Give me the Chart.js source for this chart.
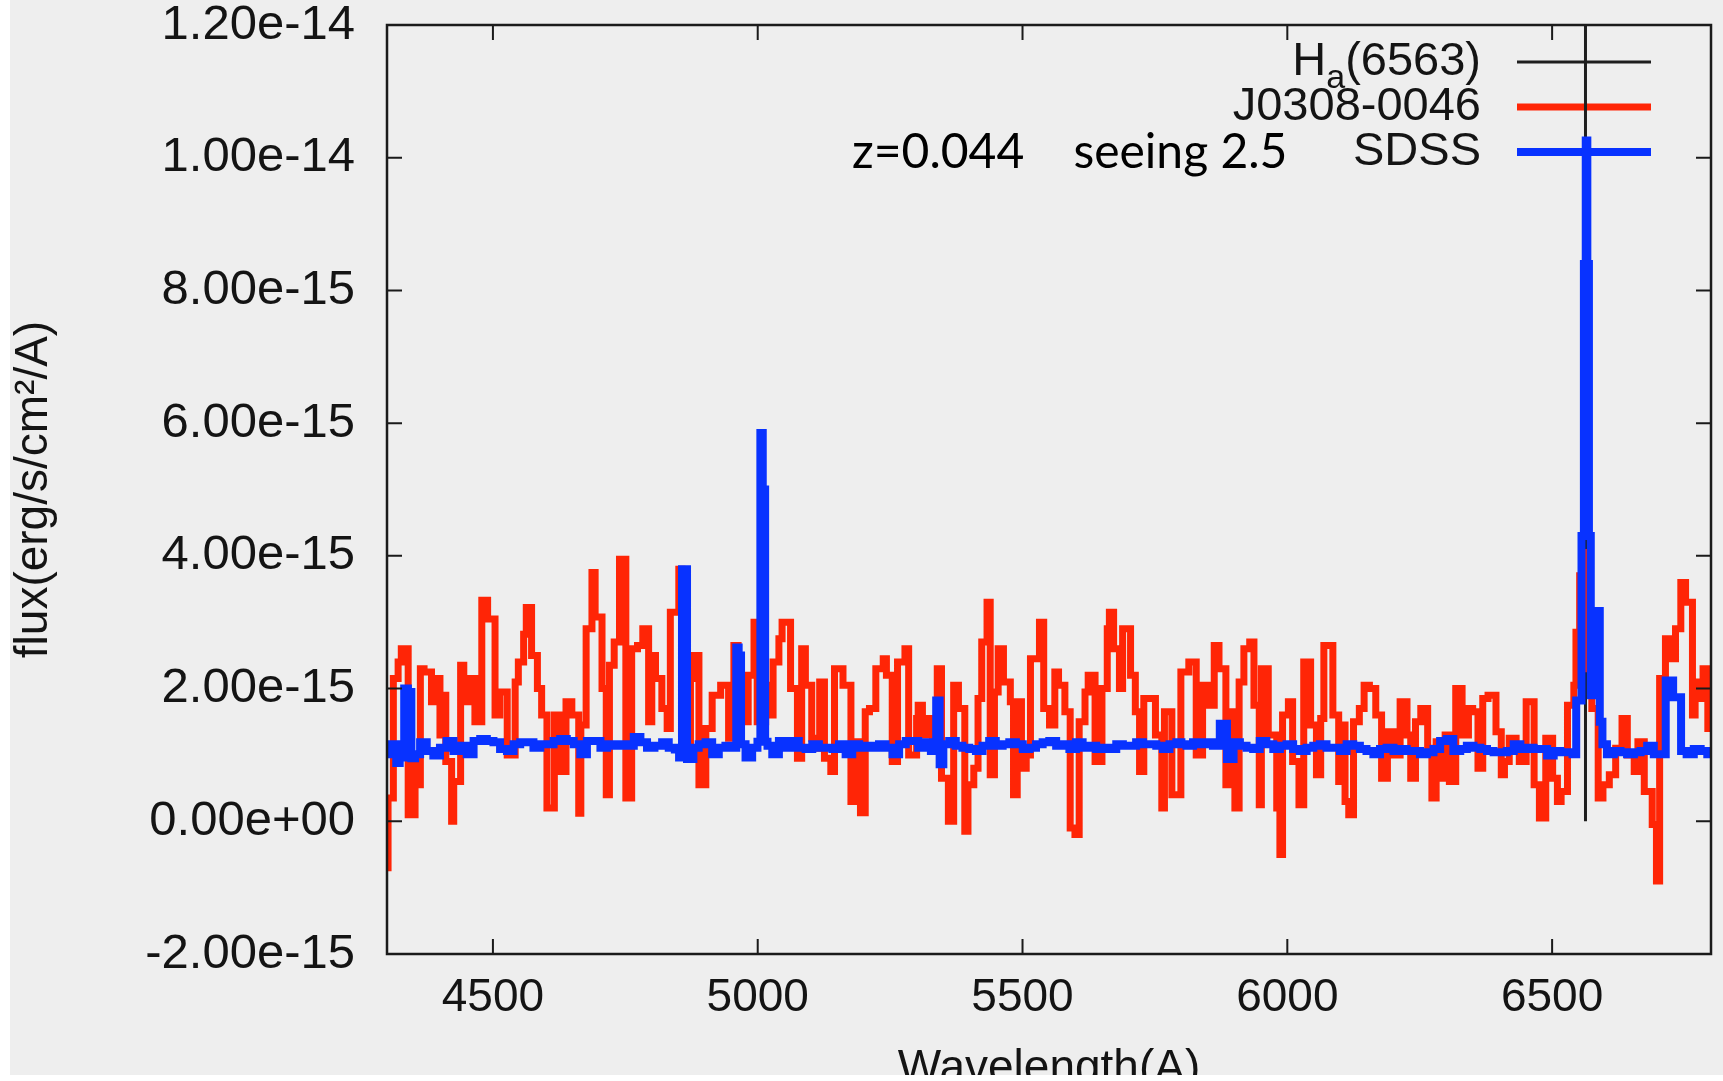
<!DOCTYPE html>
<html>
<head>
<meta charset="utf-8">
<title>J0308-0046 spectrum</title>
<script src="https://cdn.jsdelivr.net/npm/chart.js@4.4.1/dist/chart.umd.min.js"></script>
<style>
  html, body { margin: 0; padding: 0; background: #ffffff; }
  #frame { position: absolute; left: 10px; top: 0; width: 1713px; height: 1075px; overflow: hidden; background: #eeeeee; }
  #spec { display: block; }
</style>
</head>
<body>
<div id="frame"><canvas id="spec" width="1713" height="1110"></canvas></div>
<script>
// flux values are in units of 1e-15 erg/s/cm2/A
const xTicks = [4500, 5000, 5500, 6000, 6500];
const yTicks = [-2, 0, 2, 4, 6, 8, 10, 12];
const yTickLabels = ["-2.00e-15", "0.00e+00", "2.00e-15", "4.00e-15", "6.00e-15", "8.00e-15", "1.00e-14", "1.20e-14"];

const haWave = [6563, 6563];
const haFlux = [0, 12];

const redWave = [
  4293, 4302, 4312, 4321, 4327, 4340, 4353, 4359, 4363, 4370, 4384, 4394, 4400, 4405, 4411, 4422, 4426, 4439, 4445, 4458,
  4466, 4479, 4490, 4504, 4513, 4527, 4542, 4548, 4558, 4563, 4573, 4584, 4592, 4602, 4616, 4627, 4638, 4649, 4662, 4666,
  4676, 4687, 4693, 4706, 4714, 4720, 4729, 4739, 4751, 4762, 4773, 4783,
  4794, 4800, 4807, 4819, 4829, 4835, 4851, 4857, 4873, 4879, 4889, 4902, 4914, 4930, 4945, 4955, 4963, 4974, 4982, 4993,
  4999, 5015, 5020, 5029, 5040, 5046, 5062, 5075, 5083, 5090, 5102, 5108, 5117, 5126, 5138, 5145, 5161, 5176, 5183, 5194,
  5203, 5211, 5223, 5237, 5243, 5254, 5264, 5278, 5285,
  5300, 5303, 5311, 5324, 5330, 5339, 5347, 5360, 5370, 5379, 5391, 5397, 5408, 5416, 5423, 5433, 5439, 5447, 5454, 5464,
  5477, 5483, 5490, 5498, 5507, 5515, 5532, 5540, 5551, 5561, 5568, 5580, 5590, 5599, 5607, 5618, 5624, 5637, 5650, 5660,
  5664, 5672, 5683, 5689, 5704, 5713, 5721, 5729, 5738, 5751, 5763, 5768, 5782, 5799,
  5814, 5828, 5840, 5850, 5862, 5871, 5884, 5893, 5901, 5909, 5918, 5929, 5937, 5947, 5951, 5964, 5980, 5986, 5991, 6002,
  6010, 6022, 6031, 6044, 6055, 6063, 6069, 6086, 6097, 6101, 6109, 6116, 6125, 6136, 6145, 6155, 6167, 6178, 6189, 6202,
  6213, 6226, 6233, 6242, 6252, 6265, 6273, 6281, 6294,
  6298, 6306, 6318, 6330, 6342, 6350, 6360, 6369, 6379, 6394, 6404, 6410, 6419, 6432, 6438, 6451, 6466, 6476, 6488, 6501,
  6510, 6517, 6529, 6541, 6545, 6552, 6557, 6562, 6575, 6587, 6596, 6608, 6620, 6632, 6642, 6655, 6662, 6674, 6689, 6697,
  6703, 6714, 6722, 6733, 6743, 6752, 6765, 6770, 6776, 6785, 6794, 6800
];
const redFlux = [
  -0.5, -0.7, 0.35, 2.15, 2.4, 2.6, 0.1, 1.0, 0.55, 2.3, 2.25, 1.8, 2.15, 1.3, 1.9, 0.9, 0.0, 0.6, 2.35, 1.8,
  2.15, 1.5, 3.33, 3.05, 1.6, 1.95, 1.0, 2.1, 2.4, 2.82, 3.22, 2.5, 2.0, 1.6, 0.2, 1.6, 0.75, 1.8, 1.6, 0.12,
  1.45, 2.9, 3.75, 3.08, 2.0, 0.4, 2.35, 2.7, 3.95, 0.35, 2.6, 2.65,
  2.9, 1.5, 2.5, 2.15, 1.7, 1.4, 3.15, 3.8, 1.2, 2.15, 2.5, 0.55, 1.4, 1.9, 2.05, 1.25, 2.65, 1.75, 1.5, 2.2,
  3.0, 1.5, 2.05, 1.6, 2.4, 2.75, 3.0, 2.0, 0.95, 2.6, 2.05, 1.25, 1.1, 2.1, 0.95, 0.75, 2.3, 2.05, 0.3, 1.2,
  0.13, 1.65, 1.7, 2.3, 2.45, 2.2, 0.9, 2.4, 2.6,
  1.0, 1.55, 1.75, 1.3, 1.55, 1.1, 2.3, 0.65, 0.0, 2.05, 1.7, -0.15, 0.55, 0.8, 1.85, 2.7, 3.3, 0.7, 1.95, 2.6,
  2.1, 1.8, 0.4, 1.8, 0.8, 1.0, 2.45, 3.0, 1.7, 1.45, 2.25, 2.05, 1.65, -0.1, -0.2, 1.5, 1.95, 2.2, 0.9, 2.0,
  2.9, 3.15, 2.6, 2.0, 2.9, 2.2, 1.65, 0.75, 1.85, 1.85, 1.3, 0.2, 1.65, 0.4,
  2.25, 2.4, 1.0, 2.05, 1.75, 2.65, 2.3, 0.55, 1.65, 0.2, 2.1, 2.6, 2.7, 1.75, 0.25, 2.3, 1.3, 0.2, -0.5, 1.6,
  1.8, 0.9, 0.25, 2.4, 1.45, 0.7, 1.55, 2.65, 1.6, 0.6, 1.45, 0.3, 0.1, 1.5, 1.7, 2.05, 2.0, 1.6, 0.65, 1.35,
  1.0, 1.8, 1.3, 0.65, 1.5, 1.7, 1.1, 0.35, 1.2,
  0.65, 1.3, 0.6, 2.0, 1.3, 1.7, 1.65, 0.8, 1.85, 1.9, 1.35, 0.7, 0.9, 1.25, 1.1, 0.9, 1.8, 0.55, 0.05, 1.25,
  0.65, 0.3, 0.45, 1.75, 2.05, 2.85, 3.7, 4.05, 2.3, 1.7, 0.35, 0.55, 0.7, 1.1, 1.55, 1.0, 0.75, 1.2, 0.45, -0.05,
  -0.9, 2.15, 2.75, 2.45, 2.9, 3.6, 3.3, 1.6, 2.1, 1.85, 2.3, 1.4
];

const sdssWave = [
  4299, 4315, 4320, 4328, 4337, 4342, 4350, 4356, 4369, 4381, 4394, 4406, 4419, 4432, 4444, 4457, 4470, 4482, 4495, 4507,
  4520, 4533, 4545, 4558, 4570, 4583, 4596, 4608, 4621, 4633, 4646, 4659, 4671, 4684, 4697, 4709, 4722, 4734, 4747, 4760,
  4772, 4785, 4797,
  4813, 4826, 4838, 4849, 4854, 4860, 4865, 4868, 4875, 4882, 4895, 4908, 4920, 4933, 4945, 4957, 4962, 4966, 4971, 4983,
  4996, 5003, 5007, 5012, 5016, 5021, 5034, 5046, 5059, 5071, 5084, 5097, 5109, 5122, 5135, 5147, 5160, 5172, 5185, 5198,
  5210, 5223, 5235, 5248, 5261, 5273, 5286, 5298,
  5308, 5321, 5333, 5341, 5346, 5355, 5368, 5380, 5393, 5406, 5418, 5431, 5443, 5456, 5469, 5481, 5494, 5507, 5519, 5532,
  5544, 5557, 5570, 5582, 5595, 5607, 5620, 5633, 5645, 5658, 5671, 5683, 5696, 5708, 5721, 5734, 5746, 5759, 5771, 5784,
  5797,
  5803, 5816, 5828, 5841, 5853, 5866, 5879, 5893, 5904, 5917, 5929, 5942, 5954, 5967, 5980, 5992, 6005, 6017, 6030, 6043,
  6055, 6068, 6080, 6093, 6106, 6118, 6131, 6143, 6156, 6169, 6181, 6194, 6207, 6219, 6232, 6244, 6257, 6270, 6282, 6295,
  6307, 6320, 6333, 6345, 6358, 6371, 6383, 6396, 6408, 6421, 6434, 6446, 6459, 6471, 6484, 6497, 6509, 6522, 6534, 6543,
  6548, 6553, 6558, 6562, 6565, 6568, 6571, 6575, 6580, 6587, 6593, 6597, 6610, 6623, 6635, 6648, 6661, 6673, 6686, 6698,
  6711, 6718, 6725, 6732, 6740, 6747, 6761, 6774, 6787, 6799
];
const sdssFlux = [
  1.01, 1.16, 0.88, 0.96, 2.0, 1.95, 0.95, 1.01, 1.19, 1.06, 0.99, 1.11, 1.21, 1.06, 1.14, 1.01, 1.21, 1.24, 1.21, 1.19,
  1.09, 1.06, 1.16, 1.19, 1.19, 1.11, 1.16, 1.16, 1.21, 1.24, 1.21, 1.16, 1.01, 1.21, 1.21, 1.11, 1.16, 1.14, 1.16, 1.14,
  1.27, 1.19, 1.11,
  1.14, 1.19, 1.11, 1.08, 0.96, 3.8, 3.8, 0.94, 0.94, 1.11, 1.16, 1.19, 1.01, 1.11, 1.14, 1.11, 2.62, 2.5, 1.16, 0.96,
  1.11, 1.2, 5.85, 5.0, 1.2, 1.14, 1.01, 1.21, 1.11, 1.21, 1.11, 1.09, 1.16, 1.11, 1.11, 1.09, 1.16, 1.01, 1.16, 1.11,
  1.14, 1.11, 1.16, 1.11, 1.01, 1.16, 1.21, 1.21,
  1.11, 1.19, 1.06, 1.82, 0.86, 1.16, 1.21, 1.14, 1.11, 1.09, 1.06, 1.14, 1.21, 1.14, 1.16, 1.19, 1.16, 1.09, 1.11, 1.16,
  1.19, 1.21, 1.14, 1.16, 1.09, 1.19, 1.11, 1.14, 1.09, 1.11, 1.09, 1.16, 1.14, 1.14, 1.19, 1.16, 1.16, 1.14, 1.09, 1.16,
  1.19,
  1.16, 1.14, 1.19, 1.16, 1.19, 1.14, 1.47, 0.94, 1.19, 1.14, 1.11, 1.09, 1.21, 1.16, 1.09, 1.14, 1.16, 1.09, 1.06, 1.11,
  1.14, 1.16, 1.11, 1.11, 1.06, 1.16, 1.14, 1.09, 1.06, 1.01, 1.09, 1.11, 1.06, 1.09, 1.06, 1.06, 1.01, 1.04, 1.09, 1.21,
  1.24, 1.06, 1.09, 1.14, 1.11, 1.09, 1.06, 1.04, 1.04, 1.06, 1.16, 1.09, 1.11, 1.09, 1.09, 0.99, 1.06, 1.04, 1.04, 1.01,
  1.82, 1.82, 4.3, 8.4, 10.26, 8.4, 4.3, 1.9, 1.9, 3.17, 1.5, 1.16, 1.01, 1.06, 1.04, 1.01, 1.04, 1.06, 1.14, 1.01,
  1.01, 2.12, 2.12, 1.87, 1.87, 1.06, 1.01, 1.09, 1.06, 1.01
];

const seriesNames = ["H_a(6563)", "J0308-0046", "SDSS"];
const noteText = "z=0.044    seeing 2.5";

const toPoints = (xs, ys) => xs.map((x, i) => ({ x: x, y: ys[i] }));

const TEXT = "#141414";
const SANS = "'Liberation Sans', Arial, sans-serif";

// legend, frame with inward ticks, and the z / seeing note
const framePlugin = {
  id: "frame",
  beforeDatasetsDraw(chart) {
    const ctx = chart.ctx;
    const rowY = [62, 107, 152];
    const textRight = 1471, lineStart = 1507, lineEnd = 1641;
    ctx.save();
    ctx.fillStyle = TEXT;
    ctx.textBaseline = "middle";
    chart.data.datasets.forEach((ds, i) => {
      const y = rowY[i];
      const m = ds.label.match(/^(.*)_(.)(.*)$/);
      if (m) {
        ctx.font = "47px " + SANS;
        const w1 = ctx.measureText(m[1]).width;
        const w3 = ctx.measureText(m[3]).width;
        ctx.font = "34px " + SANS;
        const w2 = ctx.measureText(m[2]).width;
        const x = textRight - w1 - w2 - w3;
        ctx.textAlign = "left";
        ctx.font = "47px " + SANS;
        ctx.fillText(m[1], x, y);
        ctx.font = "34px " + SANS;
        ctx.fillText(m[2], x + w1, y + 17);
        ctx.font = "47px " + SANS;
        ctx.fillText(m[3], x + w1 + w2, y);
      } else {
        ctx.textAlign = "right";
        ctx.font = "47px " + SANS;
        ctx.fillText(ds.label, textRight, y);
      }
      ctx.strokeStyle = ds.borderColor;
      ctx.lineWidth = ds.borderWidth;
      ctx.beginPath();
      ctx.moveTo(lineStart, y);
      ctx.lineTo(lineEnd, y);
      ctx.stroke();
    });
    ctx.restore();
  },
  afterDatasetsDraw(chart) {
    const ctx = chart.ctx;
    const { left, right, top, bottom } = chart.chartArea;
    const xs = chart.scales.x, ys = chart.scales.y;
    const tl = 15;
    ctx.save();
    ctx.strokeStyle = "#1a1a1a";
    ctx.lineWidth = 2;
    ctx.beginPath();
    xTicks.forEach(v => {
      const px = xs.getPixelForValue(v);
      ctx.moveTo(px, bottom); ctx.lineTo(px, bottom - tl);
      ctx.moveTo(px, top); ctx.lineTo(px, top + tl);
    });
    yTicks.forEach(v => {
      const py = ys.getPixelForValue(v);
      ctx.moveTo(left, py); ctx.lineTo(left + tl, py);
      ctx.moveTo(right, py); ctx.lineTo(right - tl, py);
    });
    ctx.stroke();
    ctx.lineWidth = 2.5;
    ctx.strokeRect(left, top, right - left, bottom - top);

    ctx.font = "48px Lato, 'Open Sans', sans-serif";
    ctx.fillStyle = "#000000";
    ctx.textAlign = "left";
    ctx.textBaseline = "alphabetic";
    ctx.fillText(noteText, 842, 168);
    ctx.restore();
  }
};

const ctx = document.getElementById("spec").getContext("2d");
const chart = new Chart(ctx, {
  type: "line",
  data: {
    datasets: [
      {
        label: seriesNames[0],
        data: toPoints(haWave, haFlux),
        borderColor: "#1e1e1e",
        borderWidth: 3,
        pointRadius: 0,
        order: 3
      },
      {
        label: seriesNames[1],
        data: toPoints(redWave, redFlux),
        borderColor: "#ff2506",
        borderWidth: 7,
        pointRadius: 0,
        stepped: "after",
        order: 2
      },
      {
        label: seriesNames[2],
        data: toPoints(sdssWave, sdssFlux),
        borderColor: "#0832ff",
        borderWidth: 8,
        pointRadius: 0,
        stepped: "middle",
        order: 1
      }
    ]
  },
  options: {
    responsive: false,
    animation: false,
    events: [],
    layout: { padding: { left: 0, top: 25, right: 12, bottom: 0 } },
    plugins: {
      legend: { display: false },
      tooltip: { enabled: false }
    },
    scales: {
      x: {
        type: "linear",
        min: 4300,
        max: 6800,
        grid: { display: false, drawTicks: false },
        border: { display: false },
        afterBuildTicks: (scale) => { scale.ticks = xTicks.map(v => ({ value: v })); },
        afterFit: (scale) => {
          scale.height = 156;
          scale.paddingLeft = 0;
          scale.paddingRight = 0;
        },
        ticks: {
          autoSkip: false,
          maxRotation: 0,
          padding: 17,
          color: TEXT,
          font: { family: SANS, size: 46, lineHeight: 1.2 },
          callback: (value) => String(value)
        },
        title: {
          display: true,
          text: "Wavelength(A)",
          color: TEXT,
          font: { family: SANS, size: 46, lineHeight: 1 },
          padding: { top: 0, bottom: 18 }
        }
      },
      y: {
        type: "linear",
        min: -2,
        max: 12,
        grid: { display: false, drawTicks: false },
        border: { display: false },
        afterBuildTicks: (scale) => { scale.ticks = yTicks.map(v => ({ value: v })); },
        afterFit: (scale) => {
          scale.width = 377;
          scale.paddingTop = 0;
          scale.paddingBottom = 0;
        },
        ticks: {
          padding: 32,
          color: TEXT,
          font: { family: SANS, size: 49 },
          callback: (value, index) => yTickLabels[index]
        },
        title: {
          display: true,
          text: "flux(erg/s/cm²/A)",
          color: TEXT,
          font: { family: SANS, size: 46, lineHeight: 1 },
          padding: { top: 1, bottom: 0 }
        }
      }
    }
  },
  plugins: [framePlugin]
});
</script>
</body>
</html>
